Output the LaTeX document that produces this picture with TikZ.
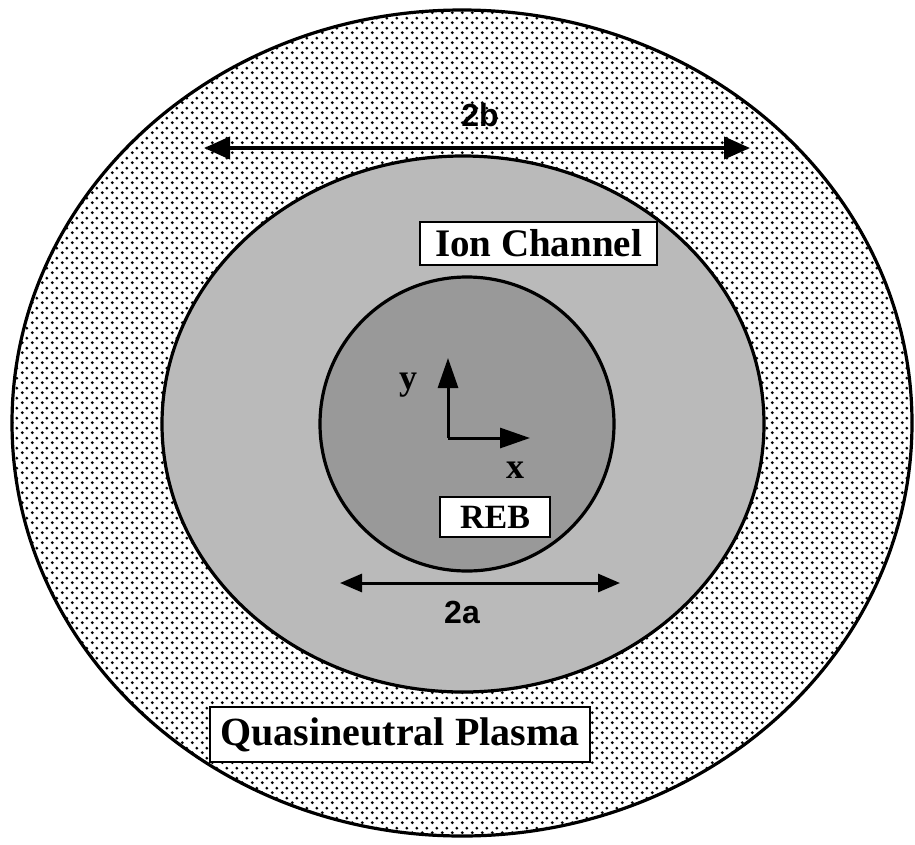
\documentclass[tikz,border=0pt]{standalone}
\usepackage{fontspec}
\setmainfont{Liberation Serif}
\setsansfont{Liberation Sans}
\usetikzlibrary{arrows.meta,patterns.meta}
\tikzdeclarepattern{
  name=coarsedots,
  type=uncolored,
  bottom left={(0pt,0pt)},
  top right={(10pt,10pt)},
  tile size={(10pt,10pt)},
  code={
    \fill (2.5pt,2.5pt) circle (1.7pt);
    \fill (7.5pt,7.5pt) circle (1.7pt);
  }
}
\tikzset{
  rim/.style={draw=black,line width=3.2pt},
  labelbox/.style={draw=black,line width=2.5pt,fill=white,inner sep=0pt},
  lbl/.style={font=\bfseries\fontsize{#1}{#1}\selectfont},
  dimlbl/.style={font=\sffamily\bfseries\fontsize{32}{32}\selectfont},
  dimarrow/.style={line width=4pt,{Triangle[length=26pt,width=22pt]}-{Triangle[length=26pt,width=22pt]}},
  smallarrow/.style={line width=3pt,{Triangle[length=22pt,width=18pt]}-{Triangle[length=22pt,width=18pt]}},
  axisarrow/.style={line width=3pt,-{Triangle[length=30pt,width=20pt]}},
}
\begin{document}
\begin{tikzpicture}[x=1pt,y=-1pt]
\useasboundingbox (0,0) rectangle (915,844);
% outer plasma
\path[fill=white] (462,423) ellipse [x radius=450, y radius=413];
\path[pattern=coarsedots,pattern color=black] (462,423) ellipse [x radius=450, y radius=413];
\draw[rim] (462,423) ellipse [x radius=450, y radius=413];
% ion channel
\path[fill=black!27] (463,424) ellipse [x radius=301, y radius=268];
\draw[rim] (463,424) ellipse [x radius=301, y radius=268];
% beam
\path[fill=black!40] (467,424) circle [radius=147];
\draw[rim] (467,424) circle [radius=147];

% 2b
\coordinate (bL) at (204,148);
\coordinate (bR) at (750,148);
\draw[dimarrow] (bL) -- (bR);
\node[dimlbl] (lb) at (480,115) {2b};

% ion channel label
\node[labelbox,minimum width=237pt,minimum height=43pt,lbl=39] (ion) at (538.5,243.5) {Ion Channel};

% axes
\coordinate (O) at (448,438);
\coordinate (yT) at (448,358);
\coordinate (xT) at (530,438);
\draw[axisarrow] (O) -- (yT);
\draw[axisarrow] (O) -- (xT);
\node[lbl=36] (ly) at (408,385) {y};
\node[lbl=36] (lx) at (515,470) {x};

% REB
\node[labelbox,minimum width=110pt,minimum height=40pt,lbl=34] (reb) at (495,517) {REB};

% 2a
\coordinate (aL) at (340,583);
\coordinate (aR) at (620,583);
\draw[smallarrow] (aL) -- (aR);
\node[dimlbl] (la) at (462,612) {2a};

% quasineutral
\node[labelbox,minimum width=380pt,minimum height=55pt,lbl=40] (qp) at (400,734.5) {Quasineutral Plasma};
\end{tikzpicture}
\end{document}
